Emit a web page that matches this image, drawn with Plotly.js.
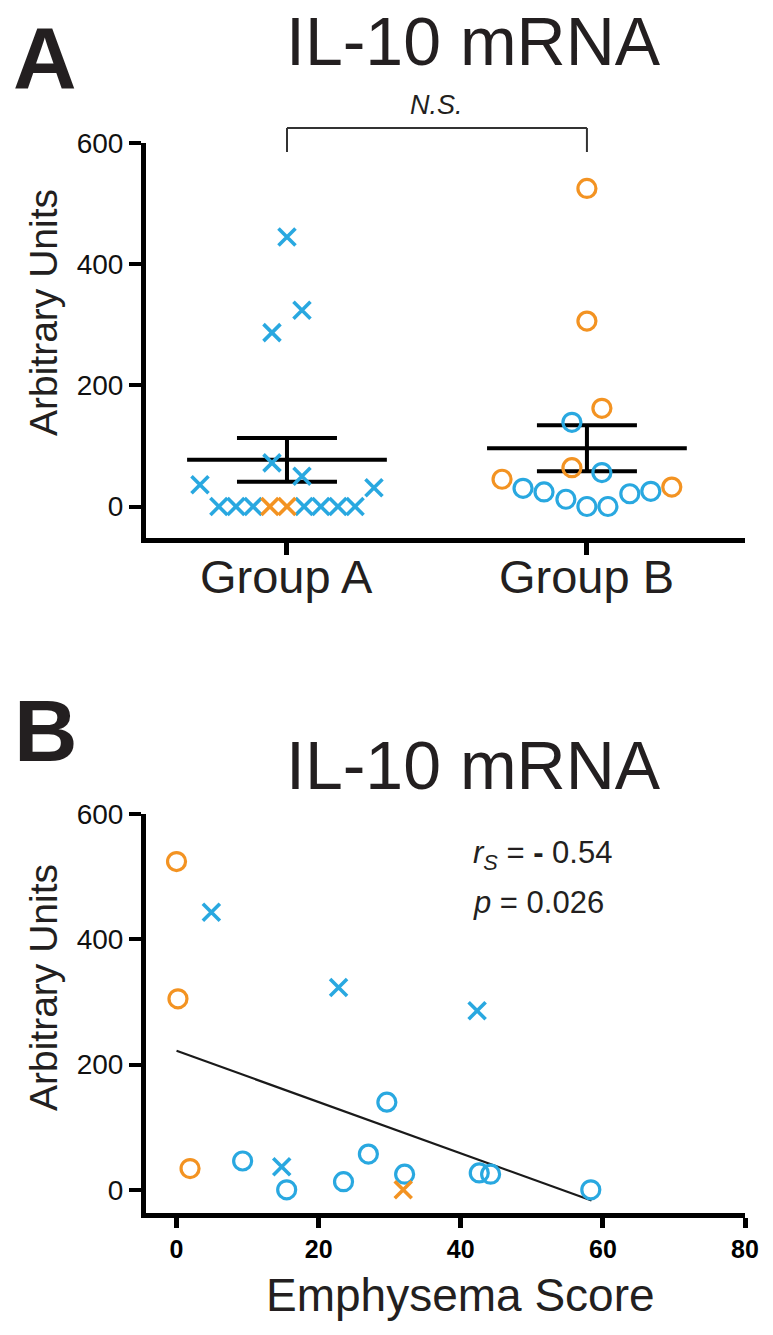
<!DOCTYPE html>
<html>
<head>
<meta charset="utf-8">
<script src="https://cdn.plot.ly/plotly-3.0.1.min.js"></script>
<style>html,body{margin:0;padding:0;background:#fff;}#chart{width:773px;height:1335px;}</style>
</head>
<body>
<div id="chart"></div>
<script>
// ---------- Panel A data (IL-10 mRNA, arbitrary units) ----------
const categories = ['Group A', 'Group B'];
const groupAValues = [445, 324, 287, 72, 50, 36, 31, 0, 0, 0, 0, 0, 0, 0, 0, 0];
const groupASubset = ['b','b','b','b','b','b','b','b','b','b','o','o','b','b','b','b'];
const groupAJitter = [0, 0.05, -0.05, -0.05, 0.05, -0.29, 0.29, -0.227, -0.17, -0.113, -0.057, 0, 0.057, 0.113, 0.17, 0.227];

const groupBValues = [525, 306, 162, 139, 64, 56, 45, 30, 24, 12, 0, 0, 21, 25, 32];
const groupBSubset = ['o','o','o','b','o','b','o','b','b','b','b','b','b','b','o'];
const groupBJitter = [0, 0, 0.05, -0.05, -0.05, 0.05, -0.283, -0.213, -0.143, -0.07, 0, 0.07, 0.143, 0.213, 0.283];

const groupMeans = [77, 96];
const groupSEM = [36, 38];

// ---------- Panel B data (emphysema score vs IL-10) ----------
const orangeCircleX = [0, 0.2, 1.9];
const orangeCircleY = [524, 305, 34];
const blueCircleX = [9.3, 15.5, 23.5, 27.0, 29.6, 32.1, 42.6, 44.2, 58.3];
const blueCircleY = [46, 0, 13, 57, 140, 25, 27, 25, 0];
const blueCrossX = [4.9, 22.8, 42.3, 14.8];
const blueCrossY = [443, 323, 286, 37];
const orangeCrossX = [31.9];
const orangeCrossY = [0];
const fitX = [0, 58.4];
const fitY = [222, -17];

const yTicks = [0, 200, 400, 600];
const xTicksB = [0, 20, 40, 60, 80];

// ---------- styling ----------
const BLUE = '#29A8E0';
const ORANGE = '#F39322';
const INK = '#231f20';
const FONT = 'Liberation Sans, Arial, Helvetica, sans-serif';
const H = 1335, W = 773;
const py = p => 1 - p / H;

function pick(values, jitter, subset, base, key) {
  const xs = [], ys = [];
  values.forEach((v, i) => { if (subset[i] === key) { xs.push(base + jitter[i]); ys.push(v); } });
  return {xs, ys};
}

const traces = [];
// error bars and mean lines first
groupMeans.forEach((m, i) => {
  traces.push({x: [i - 0.333, i + 0.333], y: [m, m], mode: 'lines', line: {color: '#000', width: 4},
    xaxis: 'x', yaxis: 'y', hoverinfo: 'skip', showlegend: false});
  traces.push({x: [i], y: [m], mode: 'markers', marker: {opacity: 0, size: 1},
    error_y: {type: 'data', array: [groupSEM[i]], visible: true, color: '#000', thickness: 4, width: 50},
    xaxis: 'x', yaxis: 'y', hoverinfo: 'skip', showlegend: false});
});

const xMarker = c => ({symbol: 'x-thin-open', size: 17, color: c, line: {color: c, width: 3.6}});
const oMarker = c => ({symbol: 'circle-open', size: 18, color: c, line: {color: c, width: 3.2}});

let s = pick(groupAValues, groupAJitter, groupASubset, 0, 'b');
traces.push({x: s.xs, y: s.ys, mode: 'markers', marker: xMarker(BLUE), xaxis: 'x', yaxis: 'y', showlegend: false, cliponaxis: false});
s = pick(groupAValues, groupAJitter, groupASubset, 0, 'o');
traces.push({x: s.xs, y: s.ys, mode: 'markers', marker: xMarker(ORANGE), xaxis: 'x', yaxis: 'y', showlegend: false, cliponaxis: false});
s = pick(groupBValues, groupBJitter, groupBSubset, 1, 'b');
traces.push({x: s.xs, y: s.ys, mode: 'markers', marker: oMarker(BLUE), xaxis: 'x', yaxis: 'y', showlegend: false, cliponaxis: false});
s = pick(groupBValues, groupBJitter, groupBSubset, 1, 'o');
traces.push({x: s.xs, y: s.ys, mode: 'markers', marker: oMarker(ORANGE), xaxis: 'x', yaxis: 'y', showlegend: false, cliponaxis: false});

// panel B
traces.push({x: fitX, y: fitY, mode: 'lines', line: {color: '#1a1a1a', width: 2.2}, xaxis: 'x2', yaxis: 'y2', showlegend: false, hoverinfo: 'skip'});
traces.push({x: orangeCircleX, y: orangeCircleY, mode: 'markers', marker: oMarker(ORANGE), xaxis: 'x2', yaxis: 'y2', showlegend: false, cliponaxis: false});
traces.push({x: blueCircleX, y: blueCircleY, mode: 'markers', marker: oMarker(BLUE), xaxis: 'x2', yaxis: 'y2', showlegend: false, cliponaxis: false});
traces.push({x: blueCrossX, y: blueCrossY, mode: 'markers', marker: xMarker(BLUE), xaxis: 'x2', yaxis: 'y2', showlegend: false, cliponaxis: false});
traces.push({x: orangeCrossX, y: orangeCrossY, mode: 'markers', marker: xMarker(ORANGE), xaxis: 'x2', yaxis: 'y2', showlegend: false, cliponaxis: false});

const yAxisCommon = {
  tickvals: yTicks, ticks: 'outside', ticklen: 12, tickwidth: 4, tickcolor: '#000',
  showline: true, linewidth: 5, linecolor: '#000', showgrid: false, zeroline: false,
  tickfont: {family: FONT, size: 28, color: '#111'}, fixedrange: true
};

const catAnnotations = categories.map((c, i) => ({
  text: c, xref: 'x', yref: 'paper', x: i, y: py(576), xanchor: 'center', yanchor: 'middle',
  showarrow: false, font: {family: FONT, size: 47, color: INK}
}));

const layout = {
  width: W, height: H,
  margin: {l: 0, r: 0, t: 0, b: 0},
  paper_bgcolor: '#fff', plot_bgcolor: '#fff',
  showlegend: false,
  xaxis: {
    domain: [146 / W, 745 / W], range: [-0.47, 1.527],
    tickvals: [0, 1], showticklabels: false, ticks: 'outside', ticklen: 12, tickwidth: 5, tickcolor: '#000',
    showline: true, linewidth: 5, linecolor: '#000', showgrid: false, zeroline: false, anchor: 'y'
  },
  yaxis: Object.assign({domain: [py(538), py(143)], range: [-52, 600], anchor: 'x'}, yAxisCommon),
  xaxis2: {
    domain: [146 / W, 745 / W], range: [-4.3, 80],
    tickvals: xTicksB, ticks: 'outside', ticklen: 10, tickwidth: 5, tickcolor: '#000',
    showline: true, linewidth: 5, linecolor: '#000', showgrid: false, zeroline: false,
    tickfont: {family: FONT, size: 25, color: '#000', weight: 'bold'}, anchor: 'y2'
  },
  yaxis2: Object.assign({domain: [py(1213), py(814)], range: [-37, 600], anchor: 'x2'}, yAxisCommon),
  shapes: [
    {type: 'line', xref: 'x', yref: 'paper', x0: 0, x1: 1, y0: py(128), y1: py(128), line: {color: '#333', width: 2}},
    {type: 'line', xref: 'x', yref: 'paper', x0: 0, x1: 0, y0: py(128), y1: py(152), line: {color: '#333', width: 2}},
    {type: 'line', xref: 'x', yref: 'paper', x0: 1, x1: 1, y0: py(128), y1: py(152), line: {color: '#333', width: 2}}
  ],
  annotations: catAnnotations.concat([
    {text: '<b>A</b>', xref: 'paper', yref: 'paper', x: 45 / W, y: py(58), xanchor: 'center', yanchor: 'middle', showarrow: false, font: {family: FONT, size: 88, color: INK}},
    {text: 'IL-10 mRNA', xref: 'paper', yref: 'paper', x: 474 / W, y: py(41), xanchor: 'center', yanchor: 'middle', showarrow: false, font: {family: FONT, size: 68, color: INK}},
    {text: '<i>N.S.</i>', xref: 'x', yref: 'paper', x: 0.5, y: py(105), xanchor: 'center', yanchor: 'middle', showarrow: false, font: {family: FONT, size: 27, color: INK}},
    {text: 'Arbitrary Units', xref: 'paper', yref: 'paper', x: 43 / W, y: py(313), textangle: -90, xanchor: 'center', yanchor: 'middle', showarrow: false, font: {family: FONT, size: 39, color: INK}},
    {text: '<b>B</b>', xref: 'paper', yref: 'paper', x: 46 / W, y: py(730), xanchor: 'center', yanchor: 'middle', showarrow: false, font: {family: FONT, size: 88, color: INK}},
    {text: 'IL-10 mRNA', xref: 'paper', yref: 'paper', x: 474 / W, y: py(765), xanchor: 'center', yanchor: 'middle', showarrow: false, font: {family: FONT, size: 68, color: INK}},
    {text: 'Arbitrary Units', xref: 'paper', yref: 'paper', x: 43 / W, y: py(988), textangle: -90, xanchor: 'center', yanchor: 'middle', showarrow: false, font: {family: FONT, size: 39, color: INK}},
    {text: 'Emphysema Score', xref: 'paper', yref: 'paper', x: 460 / W, y: py(1295), xanchor: 'center', yanchor: 'middle', showarrow: false, font: {family: FONT, size: 46, color: INK}},
    {text: '<i>r<sub>S</sub></i> = <b>-</b> 0.54', xref: 'paper', yref: 'paper', x: 471 / W, y: py(855), xanchor: 'left', yanchor: 'middle', showarrow: false, font: {family: FONT, size: 31, color: INK}},
    {text: '<i>p</i> = 0.026', xref: 'paper', yref: 'paper', x: 471 / W, y: py(902), xanchor: 'left', yanchor: 'middle', showarrow: false, font: {family: FONT, size: 31, color: INK}}
  ])
};

Plotly.newPlot('chart', traces, layout, {staticPlot: true, displayModeBar: false});
</script>
</body>
</html>
